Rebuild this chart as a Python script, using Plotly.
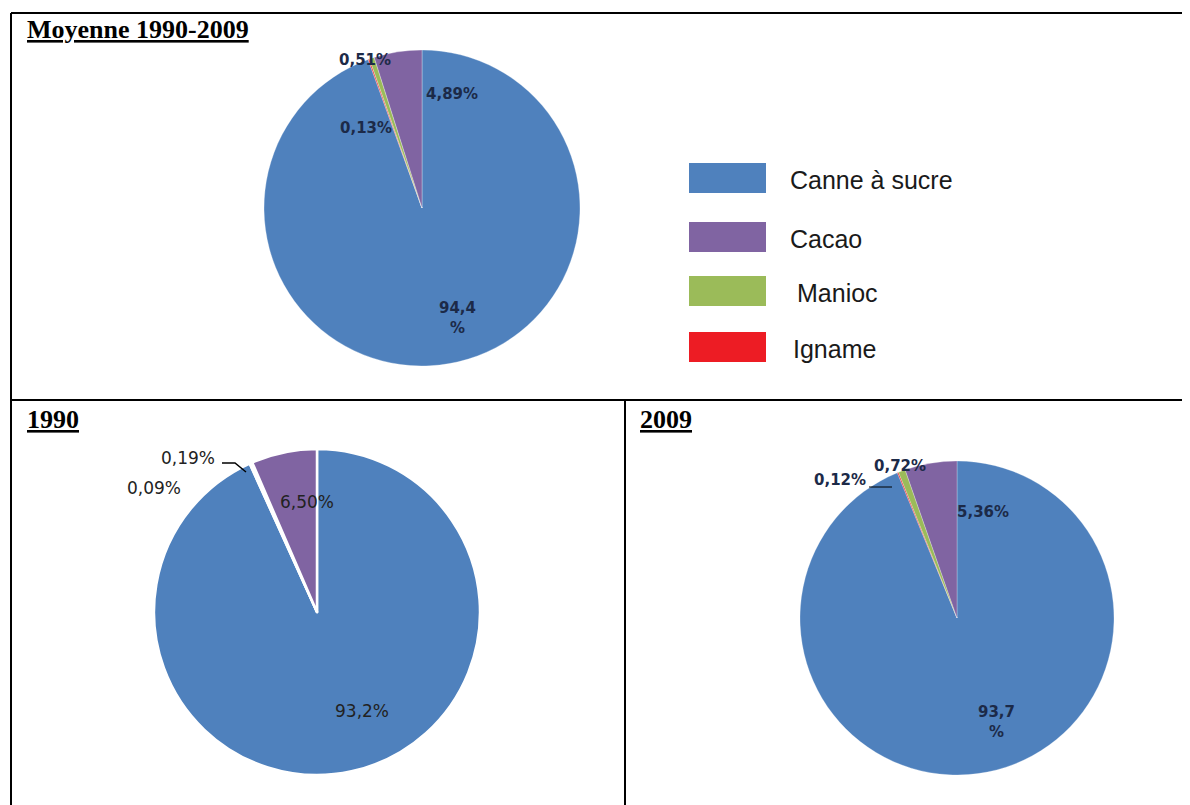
import plotly.graph_objects as go

W, H = 1190, 805
OFF = 8  # page body margin of the html output

# data
cultures = ["Canne à sucre", "Cacao", "Manioc", "Igname"]
couleurs = ["#4F81BD", "#8064A2", "#9BBB59", "#ED1C24"]

moyenne_vals = [94.47, 4.89, 0.51, 0.13]
moyenne_txt = ["94,4<br>%", "4,89%", "0,51%", "0,13%"]

an1990_vals = [93.22, 6.50, 0.19, 0.09]
an1990_txt = ["93,2%", "6,50%", "0,19%", "0,09%"]

an2009_vals = [93.80, 5.36, 0.72, 0.12]
an2009_txt = ["93,7<br>%", "5,36%", "0,72%", "0,12%"]

# slice order around the pie (clockwise from 12 o'clock)
ordre = [0, 3, 2, 1]


def px(x):
    return (x - OFF) / W


def py(y):
    return 1 - (y - OFF) / H


def domain(cx, cy, r):
    return dict(x=[px(cx - r), px(cx + r)], y=[py(cy + r), py(cy - r)])


fig = go.Figure()

pies = [
    (moyenne_vals, (422, 208, 158), dict(color="rgba(255,255,255,0.6)", width=0.5)),
    (an1990_vals, (317, 612, 163), dict(color="white", width=2.5)),
    (an2009_vals, (957, 618, 157), dict(color="rgba(255,255,255,0.5)", width=0.5)),
]
for vals, (cx, cy, r), line in pies:
    fig.add_trace(
        go.Pie(
            labels=[cultures[i] for i in ordre],
            values=[vals[i] for i in ordre],
            marker=dict(colors=[couleurs[i] for i in ordre], line=line),
            sort=False,
            direction="clockwise",
            rotation=0,
            textinfo="none",
            hoverinfo="label+percent",
            showlegend=False,
            domain=domain(cx, cy, r),
        )
    )

annotations = []
shapes = []

# table borders
line_style = dict(color="black", width=2)
for x0, y0, x1, y1 in [
    (11, 13, 1200, 13),
    (11, 13, 11, 815),
    (11, 400, 1200, 400),
    (625, 400, 625, 815),
]:
    shapes.append(
        dict(type="line", xref="paper", yref="paper",
             x0=px(x0), y0=py(y0), x1=px(x1), y1=py(y1), line=line_style)
    )

# panel titles
for txt, x, y in [("Moyenne 1990-2009", 25, 30), ("1990", 25, 419), ("2009", 638, 419)]:
    annotations.append(
        dict(text=f"<b><u>{txt}</u></b>", x=px(x), y=py(y), xref="paper", yref="paper",
             xanchor="left", yanchor="middle", showarrow=False,
             font=dict(family="Liberation Serif", size=26, color="black"))
    )

# legend
leg_rects = [163, 222, 276, 332]
leg_text_x = [788, 788, 795, 791]
for i, name in enumerate(cultures):
    y0 = leg_rects[i]
    shapes.append(
        dict(type="rect", xref="paper", yref="paper",
             x0=px(689), x1=px(766), y0=py(y0 + 30), y1=py(y0),
             fillcolor=couleurs[i], line=dict(width=0))
    )
    annotations.append(
        dict(text=name, x=px(leg_text_x[i]), y=py(y0 + 17), xref="paper", yref="paper",
             xanchor="left", yanchor="middle", showarrow=False,
             font=dict(family="Liberation Sans", size=25, color="#1a1a1a"))
    )

# slice labels
bold_font = dict(family="DejaVu Sans", size=15, color="#1c2a48", weight="bold")
reg_font = dict(family="DejaVu Sans", size=17, color="#222222")
lab_pos = [
    (moyenne_txt, [(457, 318), (452, 94), (365, 60), (366, 128)], bold_font),
    (an1990_txt, [(362, 711), (307, 502), (188, 458), (154, 488)], reg_font),
    (an2009_txt, [(996, 722), (983, 512), (900, 466), (840, 480)], bold_font),
]
for texts, positions, font in lab_pos:
    for t, (x, y) in zip(texts, positions):
        annotations.append(
            dict(text=t, x=px(x), y=py(y), xref="paper", yref="paper",
                 xanchor="center", yanchor="middle", showarrow=False,
                 font=font)
        )

# leader lines
shapes.append(dict(type="path", xref="paper", yref="paper",
                   path=f"M {px(222)} {py(463)} L {px(235)} {py(463)} L {px(246)} {py(472)}",
                   line=dict(color="black", width=1.5)))
shapes.append(dict(type="line", xref="paper", yref="paper",
                   x0=px(869), y0=py(487), x1=px(892), y1=py(487),
                   line=dict(color="black", width=1)))

fig.update_layout(
    width=W,
    height=H,
    margin=dict(l=0, r=0, t=0, b=0),
    paper_bgcolor="white",
    plot_bgcolor="white",
    shapes=shapes,
    annotations=annotations,
)

fig.write_html("out.html")
